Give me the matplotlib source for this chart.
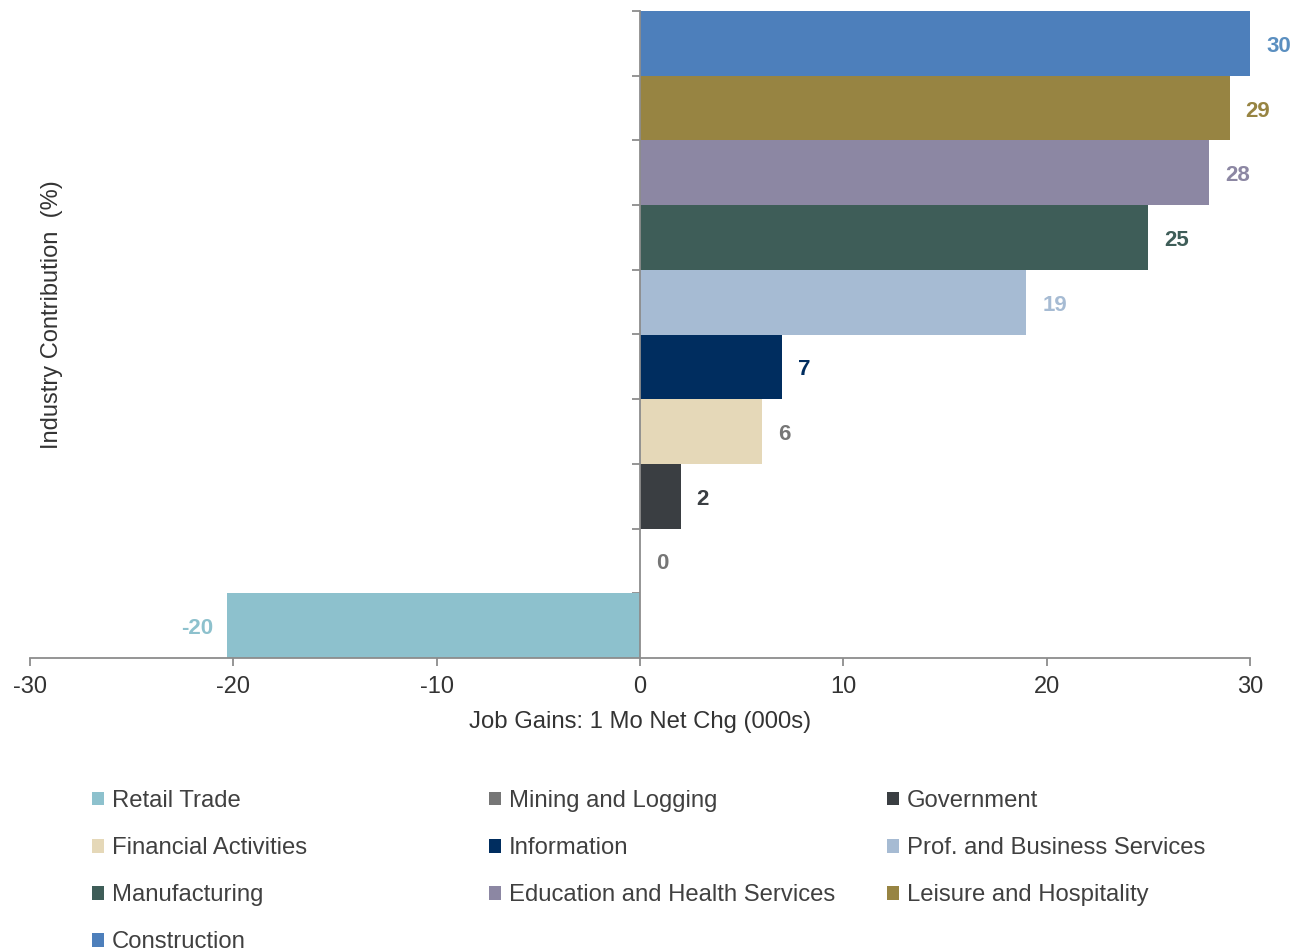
import matplotlib
matplotlib.use("Agg")
import matplotlib.pyplot as plt
from matplotlib.patches import Patch

plt.rcParams['font.family'] = ['Liberation Sans', 'DejaVu Sans']

categories = ["Retail Trade", "Mining and Logging", "Government", "Financial Activities",
              "Information", "Prof. and Business Services", "Manufacturing",
              "Education and Health Services", "Leisure and Hospitality", "Construction"]
values = [-20.3, 0.0, 2.0, 6.0, 7.0, 19.0, 25.0, 28.0, 29.0, 30.0]
labels = ["-20", "0", "2", "6", "7", "19", "25", "28", "29", "30"]
colors = ["#8dc1cd", "#767676", "#3a3e42", "#e5d8b8", "#002d5f", "#a6bbd3",
          "#3e5d58", "#8c87a3", "#978442", "#4d7fbb"]
label_colors = ["#8dc1cd", "#767676", "#3a3e42", "#767676", "#002d5f", "#a6bbd3",
                "#3e5d58", "#8c87a3", "#978442", "#5b8fc0"]
xticks = [-30, -20, -10, 0, 10, 20, 30]

W, H = 1295, 951
fig = plt.figure(figsize=(W / 100, H / 100), dpi=100)
ax = fig.add_axes([30 / W, 1 - 658 / H, 1220 / W, 647 / H])

ypos = list(range(len(values)))
ax.barh(ypos, values, height=1.0, color=colors, edgecolor='none', zorder=2)
ax.set_xlim(-30, 30)
ax.set_ylim(-0.5, len(values) - 0.5)

for y, v, lab, c in zip(ypos, values, labels, label_colors):
    if v < 0:
        ax.annotate(lab, (v, y), xytext=(-14, -3), textcoords='offset pixels',
                    ha='right', va='center', fontsize=16, fontweight='bold', color=c)
    else:
        ax.annotate(lab, (v, y), xytext=(16, -3), textcoords='offset pixels',
                    ha='left', va='center', fontsize=16, fontweight='bold', color=c)

for s in ['top', 'right']:
    ax.spines[s].set_visible(False)
ax.spines['left'].set_position(('data', 0))
ax.spines['left'].set_color('#8c8c8c')
ax.spines['bottom'].set_color('#8c8c8c')
ax.spines['left'].set_linewidth(1.3)
ax.spines['bottom'].set_linewidth(1.3)

ax.set_yticks([y + 0.5 for y in ypos])
ax.set_yticklabels([])
ax.tick_params(axis='y', length=6, width=1.3, color='#8c8c8c', direction='out')
ax.set_xticks(xticks)
ax.set_xticklabels([str(t) for t in xticks])
ax.tick_params(axis='x', length=6, width=1.3, color='#8c8c8c', direction='out',
               labelsize=17, labelcolor='#333333', pad=7)

ax.set_xlabel("Job Gains: 1 Mo Net Chg (000s)", fontsize=17.2, color='#333333', labelpad=9)
fig.text(52 / W, 1 - 315 / H, "Industry Contribution  (%)", rotation=90,
         ha='center', va='center', fontsize=17, color='#333333')

# legend in 3 columns, row-major order
col_x = [92, 489, 887]
ncol = 3
for ci, cx in enumerate(col_x):
    idxs = list(range(ci, len(categories), ncol))
    handles = [Patch(facecolor=colors[i], edgecolor='none') for i in idxs]
    labs = [categories[i] for i in idxs]
    fig.legend(handles, labs, loc='upper left', bbox_to_anchor=(cx / W, 1 - 790 / H),
               frameon=False, fontsize=17.2, labelcolor='#404040',
               handlelength=0.52, handleheight=0.52, handletextpad=0.3,
               labelspacing=1.05, borderaxespad=0, borderpad=0)

fig.savefig("out.png", dpi=100)
